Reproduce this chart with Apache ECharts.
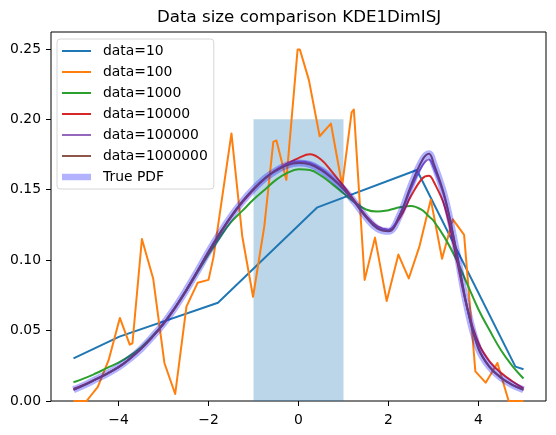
<!DOCTYPE html>
<html>
<head>
<meta charset="utf-8">
<script src="https://cdn.jsdelivr.net/npm/echarts@6/dist/echarts.min.js"></script>
<style>
  html, body { margin: 0; padding: 0; background: #fff; }
  #chart { width: 556px; height: 435px; }
</style>
</head>
<body>
<div id="chart"></div>
<script>
// ---------------- data ----------------
const titleText = 'Data size comparison KDE1DimISJ';
const seriesNames = ['data=10', 'data=100', 'data=1000', 'data=10000', 'data=100000', 'data=1000000', 'True PDF'];

const xTicks = [-4, -2, 0, 2, 4];
const yTicks = [0, 0.05, 0.10, 0.15, 0.20, 0.25];

// data=10 (piecewise linear)
const blueX = [-5.0, -3.98, -1.79, 0.42, 2.63, 4.82, 5.0];
const blueY = [0.0303, 0.0457, 0.0698, 0.1375, 0.164, 0.0244, 0.0225];

// data=100 (piecewise linear)
const orangeX = [-5.00, -4.71, -4.46, -4.22, -3.97, -3.75, -3.69, -3.48, -3.23, -2.98, -2.74, -2.49, -2.24, -2.00, -1.89, -1.49, -1.25, -1.01, -0.76, -0.56, -0.49, -0.27, -0.02, 0.03, 0.23, 0.47, 0.72, 0.97, 1.18, 1.23, 1.47, 1.70, 1.74, 1.96, 2.00, 2.22, 2.26, 2.45, 2.69, 2.94, 3.19, 3.43, 3.68, 3.93, 4.16, 4.42, 4.67, 5.00];
const orangeY = [0, 0, 0.010, 0.029, 0.059, 0.040, 0.041, 0.115, 0.087, 0.027, 0.005, 0.067, 0.084, 0.086, 0.102, 0.190, 0.117, 0.074, 0.124, 0.184, 0.185, 0.157, 0.2496, 0.2496, 0.228, 0.188, 0.197, 0.153, 0.205, 0.207, 0.086, 0.116, 0.115, 0.071, 0.071, 0.104, 0.104, 0.087, 0.110, 0.143, 0.101, 0.129, 0.118, 0.021, 0.013, 0.027, 0, 0];

// shared x positions of the smooth curves
const smoothX = [-5, -4.75, -4.5, -4.25, -4, -3.75, -3.5, -3.25, -3, -2.75, -2.5, -2.25, -2, -1.75, -1.5, -1.25, -1, -0.75, -0.5, -0.25, 0, 0.25, 0.5, 0.75, 1, 1.25, 1.5, 1.75, 2, 2.25, 2.5, 2.75, 2.9, 3, 3.25, 3.5, 3.75, 4, 4.25, 4.5, 4.75, 5];

const greenY = [0.0133, 0.0162, 0.0197, 0.0235, 0.0272, 0.0320, 0.0380, 0.0460, 0.0550, 0.0660, 0.0780, 0.0910, 0.1040, 0.1160, 0.1270, 0.1350, 0.1430, 0.1500, 0.1570, 0.1620, 0.1645, 0.1640, 0.1600, 0.1540, 0.1475, 0.1410, 0.1360, 0.1345, 0.1355, 0.1375, 0.1385, 0.1355, 0.1310, 0.1280, 0.1160, 0.1010, 0.0830, 0.0650, 0.0500, 0.0360, 0.0250, 0.0160];

const redY = [0.0085, 0.0118, 0.0155, 0.0195, 0.0240, 0.0300, 0.0370, 0.0453, 0.0547, 0.0657, 0.0782, 0.0917, 0.1055, 0.1185, 0.1305, 0.1410, 0.1500, 0.1580, 0.1640, 0.1685, 0.1725, 0.1752, 0.1715, 0.1625, 0.1525, 0.1420, 0.1315, 0.1240, 0.1215, 0.1300, 0.1455, 0.1580, 0.1600, 0.1560, 0.1380, 0.1030, 0.0660, 0.0410, 0.0280, 0.0200, 0.0140, 0.0090];

const purpleY = [0.0080, 0.0115, 0.0155, 0.0195, 0.0240, 0.0300, 0.0370, 0.0455, 0.0550, 0.0660, 0.0785, 0.0920, 0.1060, 0.1190, 0.1310, 0.1415, 0.1505, 0.1580, 0.1640, 0.1680, 0.1700, 0.1690, 0.1650, 0.1585, 0.1505, 0.1410, 0.1308, 0.1235, 0.1215, 0.1320, 0.1510, 0.1670, 0.1715, 0.1660, 0.1440, 0.1075, 0.0660, 0.0375, 0.0240, 0.0165, 0.0115, 0.0080];

const brownY = [0.0080, 0.0115, 0.0155, 0.0195, 0.0240, 0.0300, 0.0370, 0.0455, 0.0550, 0.0660, 0.0785, 0.0920, 0.1060, 0.1190, 0.1310, 0.1415, 0.1505, 0.1580, 0.1635, 0.1675, 0.1690, 0.1680, 0.1640, 0.1580, 0.1505, 0.1410, 0.1305, 0.1225, 0.1205, 0.1320, 0.1530, 0.1710, 0.1755, 0.1690, 0.1450, 0.1080, 0.0660, 0.0370, 0.0240, 0.0165, 0.0115, 0.0080];

const truePdfY = [0.0080, 0.0115, 0.0155, 0.0195, 0.0240, 0.0300, 0.0370, 0.0455, 0.0550, 0.0660, 0.0785, 0.0920, 0.1060, 0.1190, 0.1310, 0.1415, 0.1505, 0.1580, 0.1635, 0.1675, 0.1690, 0.1680, 0.1640, 0.1580, 0.1505, 0.1410, 0.1305, 0.1225, 0.1205, 0.1320, 0.1530, 0.1710, 0.1755, 0.1690, 0.1450, 0.1080, 0.0660, 0.0370, 0.0240, 0.0165, 0.0115, 0.0080];

// shaded rectangle
const rectX = [-1, 1];
const rectTop = 0.2;

// ---------------- chart ----------------
const FONT = 'DejaVu Sans';
const colors = ['#1f77b4', '#ff7f0e', '#2ca02c', '#d62728', '#9467bd', '#8c564b', 'rgba(0,0,255,0.3)'];
const pair = (xs, ys) => xs.map((x, i) => [x, ys[i]]);
const minus = v => (v < 0 ? '\u2212' + Math.abs(v) : String(v));

const thinIcon = 'path://M0,0h0.05v0.05h-0.05zM0,2.5h29v2h-29zM36,7h-0.05v-0.05h0.05z';
const thickIcon = 'path://M0,0h0.05v0.05h-0.05zM0,0.15h29v6.7h-29zM36,7h-0.05v-0.05h0.05z';

function lineSeries(name, data, color, width, smooth) {
  return {
    name, type: 'line', data, smooth: smooth ? 0.4 : false,
    showSymbol: false, symbol: 'none', silent: true,
    lineStyle: { color, width, cap: 'butt', join: 'round' },
    itemStyle: { color },
    emphasis: { disabled: true }
  };
}

const chart = echarts.init(document.getElementById('chart'), null, { renderer: 'canvas' });
chart.setOption({
  animation: false,
  title: {
    text: titleText, left: 157, top: 9, padding: 0,
    textStyle: { fontFamily: FONT, fontSize: 16.67, fontWeight: 'normal', color: '#000' }
  },
  grid: { left: 51, right: 10, top: 32, bottom: 34, show: true, borderColor: '#000', borderWidth: 1, backgroundColor: 'transparent' },
  xAxis: {
    type: 'value', min: -5.5, max: 5.5,
    axisLine: { show: false, onZero: false },
    splitLine: { show: false },
    axisTick: { show: true, length: 5, customValues: xTicks, lineStyle: { color: '#000', width: 1 } },
    axisLabel: { customValues: xTicks, formatter: minus, margin: 12, color: '#000', fontSize: 13.9, fontFamily: FONT }
  },
  yAxis: {
    type: 'value', min: 0, max: 0.262,
    axisLine: { show: false, onZero: false },
    splitLine: { show: false },
    axisTick: { show: true, length: 5, customValues: yTicks, lineStyle: { color: '#000', width: 1 } },
    axisLabel: { customValues: yTicks, formatter: v => v.toFixed(2), margin: 10, color: '#000', fontSize: 13.9, fontFamily: FONT }
  },
  legend: {
    left: 57, top: 39, orient: 'vertical',
    itemWidth: 36, itemHeight: 7, itemGap: 5,
    padding: [4, 6, 4, 5],
    backgroundColor: 'rgba(255,255,255,0.8)', borderColor: '#d6d6d6', borderWidth: 1, borderRadius: 3,
    textStyle: { fontFamily: FONT, fontSize: 13.9, color: '#000', lineHeight: 16 },
    itemStyle: { borderWidth: 0 },
    selectedMode: false,
    data: seriesNames.map((n, i) => ({ name: n, icon: i === 6 ? thickIcon : thinIcon }))
  },
  series: [
    {
      name: 'rect', type: 'line', data: [], silent: true,
      markArea: {
        silent: true,
        itemStyle: { color: 'rgba(31,119,180,0.3)' },
        data: [[{ xAxis: rectX[0], yAxis: 0 }, { xAxis: rectX[1], yAxis: rectTop }]]
      }
    },
    lineSeries(seriesNames[0], pair(blueX, blueY), colors[0], 2, false),
    lineSeries(seriesNames[1], pair(orangeX, orangeY), colors[1], 2, false),
    lineSeries(seriesNames[2], pair(smoothX, greenY), colors[2], 2, true),
    lineSeries(seriesNames[3], pair(smoothX, redY), colors[3], 2, true),
    lineSeries(seriesNames[4], pair(smoothX, purpleY), colors[4], 2, true),
    lineSeries(seriesNames[5], pair(smoothX, brownY), colors[5], 2, true),
    lineSeries(seriesNames[6], pair(smoothX, truePdfY), colors[6], 7, true)
  ]
});
</script>
</body>
</html>
